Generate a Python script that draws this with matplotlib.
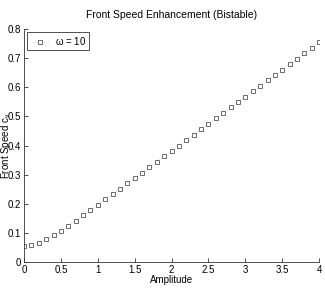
import matplotlib
matplotlib.use('Agg')
import matplotlib.pyplot as plt
import numpy as np

plt.rcParams['font.family'] = ['Liberation Sans', 'DejaVu Sans']
plt.rcParams['mathtext.fontset'] = 'custom'
plt.rcParams['mathtext.rm'] = 'Liberation Sans'
plt.rcParams['mathtext.it'] = 'Liberation Sans'

amplitude = [0.0, 0.1, 0.2, 0.3, 0.4, 0.5, 0.6, 0.7, 0.8, 0.9,
             1.0, 1.1, 1.2, 1.3, 1.4, 1.5, 1.6, 1.7, 1.8, 1.9,
             2.0, 2.1, 2.2, 2.3, 2.4, 2.5, 2.6, 2.7, 2.8, 2.9,
             3.0, 3.1, 3.2, 3.3, 3.4, 3.5, 3.6, 3.7, 3.8, 3.9, 4.0]
front_speed = [0.055, 0.058, 0.067, 0.078, 0.092, 0.108, 0.125, 0.142, 0.160, 0.178,
               0.197, 0.215, 0.233, 0.252, 0.270, 0.289, 0.307, 0.326, 0.345, 0.363,
               0.382, 0.400, 0.419, 0.438, 0.456, 0.475, 0.494, 0.512, 0.531, 0.549,
               0.568, 0.587, 0.605, 0.624, 0.643, 0.661, 0.680, 0.699, 0.717, 0.736, 0.755]

fig = plt.figure(figsize=(3.25, 2.88), dpi=100)
ax = fig.add_axes([0.074, 0.090, 0.908, 0.809])

ax.plot(amplitude, front_speed, linestyle=':', color='#c8c8c8', linewidth=0.6,
        marker='s', markersize=3.3, markerfacecolor='white',
        markeredgecolor='#555555', markeredgewidth=0.6, label=r'$\omega$ = 10')

ax.set_xlim(0, 4)
ax.set_ylim(0, 0.8)
ax.set_xticks(np.arange(0, 4.01, 0.5))
ax.set_xticklabels(['0', '0.5', '1', '1.5', '2', '2.5', '3', '3.5', '4'])
ax.set_yticks(np.arange(0, 0.81, 0.1))
ax.set_yticklabels(['0', '0.1', '0.2', '0.3', '0.4', '0.5', '0.6', '0.7', '0.8'])
ax.spines['top'].set_visible(False)
ax.spines['right'].set_visible(False)
for s in ['left', 'bottom']:
    ax.spines[s].set_linewidth(0.6)
    ax.spines[s].set_color('#333333')
ax.tick_params(direction='in', length=3, width=0.6, labelsize=7, pad=2, colors='#333333')
ax.tick_params(labelcolor='black')

ax.set_title('Front Speed Enhancement (Bistable)', fontsize=7.5, pad=8)
ax.set_xlabel('Amplitude', fontsize=7, labelpad=0)
ax.set_ylabel(r'Front Speed c$_v$', fontsize=7)
ax.yaxis.set_label_coords(-0.036, 0.5)

leg = ax.legend(loc='upper left', fontsize=7, frameon=True, fancybox=False,
                borderpad=0.3, handlelength=2.0, handletextpad=0.6,
                bbox_to_anchor=(0.0, 1.0), borderaxespad=0.3)
leg.get_frame().set_edgecolor('black')
leg.get_frame().set_linewidth(0.6)

fig.savefig('out.png', dpi=100)
